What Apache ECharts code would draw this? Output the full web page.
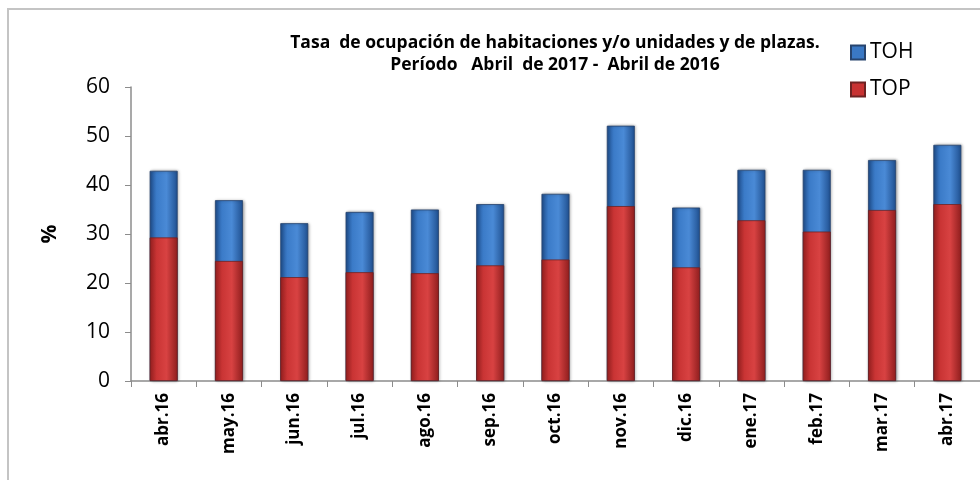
<!DOCTYPE html>
<html>
<head>
<meta charset="utf-8">
<script src="https://cdn.jsdelivr.net/npm/echarts@6/dist/echarts.min.js"></script>
<style>
  html, body { margin: 0; padding: 0; background: #fff; }
  #frame { position: absolute; left: 7px; top: 8px; width: 1000px; height: 500px; border: 2px solid #c4c4c4; }
  #chart { position: absolute; left: 0; top: 0; width: 980px; height: 480px; }
</style>
</head>
<body>
<div id="frame"></div>
<div id="chart"></div>
<script>
// meses
const categories = ["abr.16", "may.16", "jun.16", "jul.16", "ago.16", "sep.16", "oct.16",
  "nov.16", "dic.16", "ene.17", "feb.17", "mar.17", "abr.17"];
// tasa de ocupación habitaciones
const tohValues = [42.9, 36.9, 32.2, 34.5, 35.0, 36.1, 38.2, 52.1, 35.4, 43.1, 43.1, 45.1, 48.2];
// tasa de ocupación plazas
const topValues = [29.3, 24.5, 21.2, 22.2, 22.0, 23.6, 24.8, 35.7, 23.2, 32.8, 30.5, 34.9, 36.1];
const yTicks = [0, 10, 20, 30, 40, 50, 60];

const font = '"Open Sans", "Noto Sans", sans-serif';

function barGrad(dark, mid, light) {
  return new echarts.graphic.LinearGradient(0, 0, 1, 0, [
    { offset: 0, color: dark },
    { offset: 0.25, color: mid },
    { offset: 0.6, color: light },
    { offset: 1, color: dark }
  ]);
}

const chartDom = document.getElementById("chart");
const myChart = echarts.init(chartDom);

const option = {
  animation: false,
  title: {
    text: "Tasa  de ocupación de habitaciones y/o unidades y de plazas.\nPeríodo   Abril  de 2017 -  Abril de 2016",
    left: 550,
    top: 27,
    textAlign: "center",
    textStyle: { fontFamily: font, fontSize: 17.5, fontWeight: "bold", color: "#000", lineHeight: 22 }
  },
  legend: {
    orient: "vertical",
    left: 845,
    top: 37,
    itemGap: 16,
    itemWidth: 14,
    itemHeight: 14,
    icon: "rect",
    textStyle: { fontFamily: font, fontSize: 21, color: "#000" },
    data: [
      { name: "TOH", itemStyle: { color: "#3a78c4" } },
      { name: "TOP", itemStyle: { color: "#c83232" } }
    ]
  },
  grid: { left: 131, right: 0, top: 87, bottom: 99, containLabel: false },
  xAxis: {
    type: "category",
    data: categories,
    axisLine: { lineStyle: { color: "#8c8c8c", width: 1.5 } },
    axisTick: { show: true, length: 6, lineStyle: { color: "#8c8c8c" } },
    axisLabel: {
      rotate: 90, margin: 12, fontFamily: font, fontWeight: "bold",
      fontSize: 17, color: "#000"
    }
  },
  yAxis: {
    type: "value",
    min: yTicks[0],
    max: yTicks[yTicks.length - 1],
    interval: 10,
    name: "%",
    nameLocation: "middle",
    nameGap: 70,
    nameRotate: 90,
    nameTextStyle: { fontFamily: font, fontWeight: "bold", fontSize: 21, color: "#000" },
    splitLine: { show: false },
    axisLine: { show: true, lineStyle: { color: "#8c8c8c", width: 1.5 } },
    axisTick: { show: true, length: 6, inside: false, lineStyle: { color: "#8c8c8c" } },
    axisLabel: { fontFamily: font, fontSize: 21, color: "#000", margin: 21 }
  },
  series: [
    {
      name: "TOH",
      type: "bar",
      data: tohValues,
      barWidth: 28,
      barGap: "-100%",
      z: 2,
      itemStyle: {
        color: barGrad("#1f4f8f", "#3b7bc8", "#4a8ad6"),
        borderColor: "#27446e",
        borderWidth: 0.8,
        shadowColor: "rgba(0,0,0,0.35)",
        shadowBlur: 3,
        shadowOffsetX: 1
      }
    },
    {
      name: "TOP",
      type: "bar",
      data: topValues,
      barWidth: 28,
      barGap: "-100%",
      z: 3,
      itemStyle: {
        color: barGrad("#8e1d1d", "#c93434", "#d84242"),
        borderColor: "#6e2222",
        borderWidth: 0.8
      }
    }
  ]
};

option && myChart.setOption(option);
</script>
</body>
</html>
